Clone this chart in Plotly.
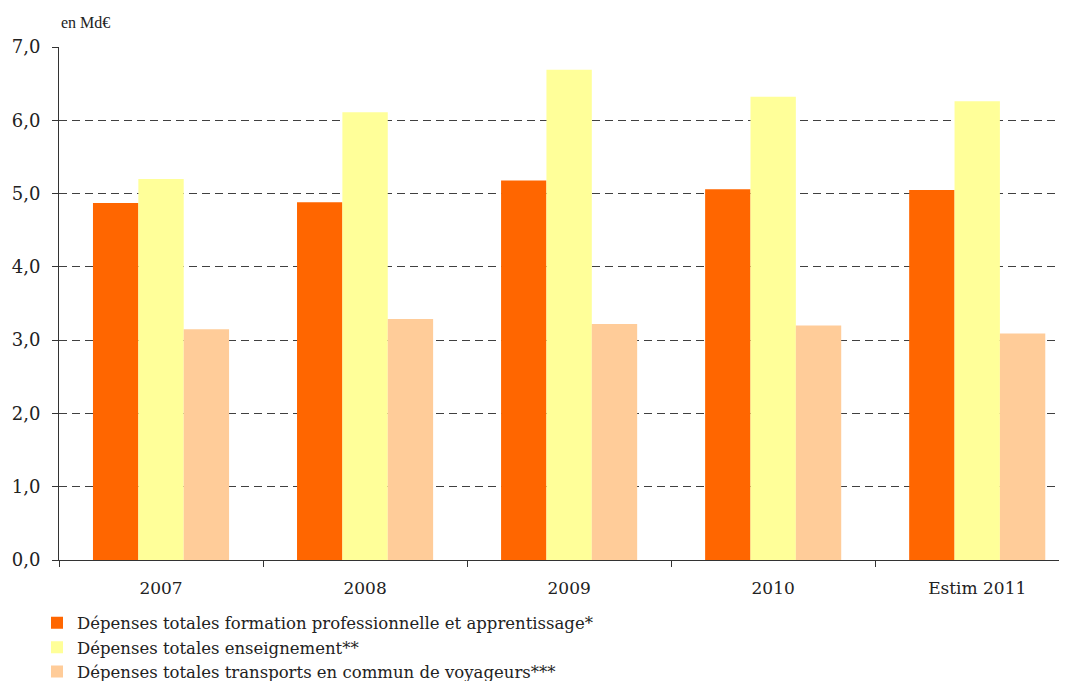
"""
Dépenses totales des régions (en Md€) : formation professionnelle,
enseignement et transports en commun, 2007 à 2011 (estimation).
"""

import plotly.graph_objects as go

# Data
years = ["2007", "2008", "2009", "2010", "Estim 2011"]
formation = [4.87, 4.88, 5.18, 5.06, 5.05]
enseignement = [5.20, 6.11, 6.69, 6.32, 6.26]
transports = [3.15, 3.29, 3.22, 3.20, 3.09]

series_names = [
    "Dépenses totales formation professionnelle et apprentissage*",
    "Dépenses totales enseignement**",
    "Dépenses totales transports en commun de voyageurs***",
]
colors = ["#FF6600", "#FFFF99", "#FFCC99"]
y_ticks = [0, 1, 2, 3, 4, 5, 6, 7]

# the page body adds an 8px offset, so the figure is laid out in shifted coords
W, H = 1067, 681
OFF = 8
left, top, bottom, right = 59 - OFF, 47 - OFF, H - (560.5 - OFF), OFF
plot_h = H - top - bottom
plot_w = W - left - right

fig = go.Figure()
for name, vals, col in zip(series_names, [formation, enseignement, transports], colors):
    fig.add_trace(go.Bar(x=years, y=vals, name=name, marker=dict(color=col, line_width=0)))

fig.update_layout(
    width=W,
    height=H,
    barmode="group",
    bargap=0.333,
    bargroupgap=0,
    plot_bgcolor="white",
    paper_bgcolor="white",
    margin=dict(l=left, r=right, t=top, b=bottom, autoexpand=False),
    separators=",.",
    showlegend=True,
    legend=dict(
        x=(37 - OFF - left) / plot_w, y=-((606 - OFF) - (H - bottom)) / plot_h,
        xanchor="left", yanchor="top",
        font=dict(family="DejaVu Serif", size=16.5, color="#222"),
        tracegroupgap=0,
        itemwidth=30,
        traceorder="normal",
        bgcolor="rgba(0,0,0,0)",
    ),
    xaxis=dict(
        range=[-0.5, 4.44],
        showgrid=False,
        showline=True, linecolor="#333", linewidth=1,
        ticks="outside", ticklen=6, tickcolor="#333",
        tickson="boundaries",
        tickangle=0,
        ticklabelstandoff=13,
        automargin=False,
        tickfont=dict(family="DejaVu Serif", size=17, color="#222"),
    ),
    yaxis=dict(
        range=[0, 7],
        tickvals=y_ticks,
        tickformat=".1f",
        showgrid=True, gridcolor="#404040", griddash="8px,5px", gridwidth=1,
        zeroline=False,
        showline=True, linecolor="#333", linewidth=1,
        ticks="outside", ticklen=6, tickcolor="#333",
        ticklabelstandoff=8,
        automargin=False,
        tickfont=dict(family="DejaVu Serif", size=18, color="#222"),
    ),
    annotations=[
        dict(
            text="en Md€", xref="paper", yref="paper",
            x=0.0, y=1.0, yshift=14,
            xanchor="left", yanchor="bottom",
            showarrow=False,
            font=dict(family="Liberation Serif", size=16, color="#222"),
        )
    ],
)

fig.write_html("out.html")
